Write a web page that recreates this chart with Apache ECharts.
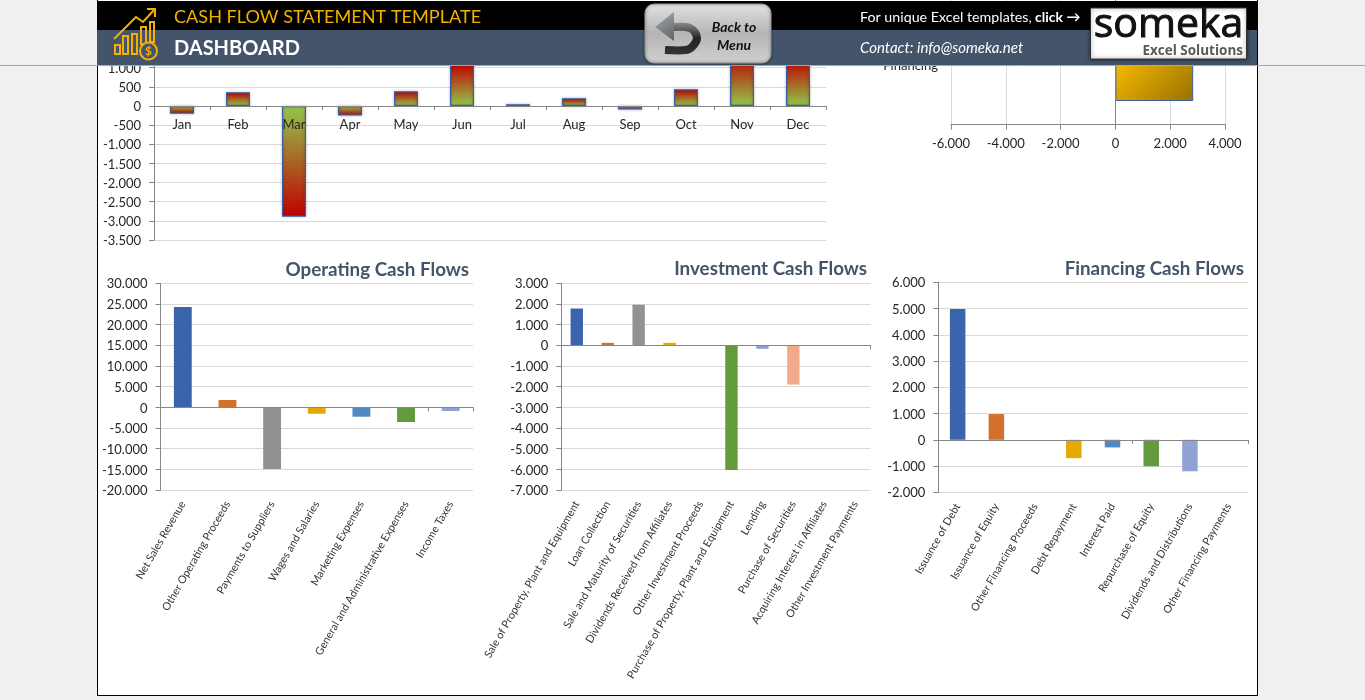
<!DOCTYPE html>
<html>
<head>
<meta charset="utf-8">
<title>Cash Flow Statement Dashboard</title>
<script src="https://cdn.jsdelivr.net/npm/echarts@6/dist/echarts.min.js"></script>
<style>
  html, body { margin: 0; padding: 0; background: #f0f0f0; overflow: hidden; }
  #sheet { position: absolute; left: 97px; top: 0; width: 1159px; height: 695px; background: #fff;
           border-left: 1px solid #000; border-right: 1px solid #000; border-bottom: 1px solid #000; }
  #main { position: absolute; left: 0; top: 0; width: 1365px; height: 700px; }
</style>
</head>
<body>
<div id="sheet"></div>
<div id="main"></div>
<script>
// monthly net cash flow
const months = ['Jan', 'Feb', 'Mar', 'Apr', 'May', 'Jun', 'Jul', 'Aug', 'Sep', 'Oct', 'Nov', 'Dec'];
const monthlyValues = [-200, 358, -2890, -250, 385, 1100, 45, 200, -90, 436, 1300, 1200];

// totals per section (only Financing shows below the header)
const sectionNames = ['Financing', 'Investment', 'Operating'];
const sectionValues = [2840, -4120, 2870];

const operatingNames = ['Net Sales Revenue', 'Other Operating Proceeds', 'Payments to Suppliers', 'Wages and Salaries',
  'Marketing Expenses', 'General and Administrative Expenses', 'Income Taxes'];
const operatingValues = [24270, 1770, -14950, -1550, -2270, -3550, -900];

const investmentNames = ['Sale of Property, Plant and Equipment', 'Loan Collection', 'Sale and Maturity of Securities',
  'Dividends Received from Affiliates', 'Other Investment Proceeds', 'Purchase of Property, Plant and Equipment',
  'Lending', 'Purchase of Securities', 'Acquiring Interest in Affiliates', 'Other Investment Payments'];
const investmentValues = [1780, 120, 1960, 120, 0, -6030, -170, -1900, 0, 0];

const financingNames = ['Issuance of Debt', 'Issuance of Equity', 'Other Financing Proceeds', 'Debt Repayment',
  'Interest Paid', 'Repurchase of Equity', 'Dividends and Distributions', 'Other Financing Payments'];
const financingValues = [4980, 980, 0, -700, -290, -1010, -1200, 0];

const pointColors = ['#3b64ad', '#d2702c', '#929292', '#e3aa00', '#4e8ac0', '#639a3c', '#91a3d5', '#f2aa8a', '#6f6f6f', '#b88600'];

const FONT = 'Lato, "Noto Sans", sans-serif';
const GRID_LINE = '#d9d9d9';
const AXIS_LINE = '#868686';
const SLATE = '#44546a';
const AXIS_TEXT = { color: '#262626', fontSize: 13, fontFamily: FONT };

// 1.000 style numbers, as in the workbook
function fmt(v) {
  const s = String(Math.abs(v)).replace(/\B(?=(\d{3})+$)/g, '.');
  return v < 0 ? '-' + s : s;
}

const myChart = echarts.init(document.getElementById('main'), null, { renderer: 'canvas' });

const grids = [];
const xAxes = [];
const yAxes = [];
const series = [];

function valueY(gridIndex, min, max, interval) {
  yAxes.push({
    gridIndex, type: 'value', min, max, interval,
    axisLine: { show: true, lineStyle: { color: AXIS_LINE } },
    axisTick: { show: true, length: 5, lineStyle: { color: AXIS_LINE } },
    axisLabel: {
      margin: 13,
      formatter: v => '{n|' + fmt(v) + '}',
      // nudges the digits down onto the gridline
      rich: { n: Object.assign({ padding: [2, 0, 0, 0] }, AXIS_TEXT) }
    },
    splitLine: { lineStyle: { color: GRID_LINE } }
  });
}

// a category axis holding only the line and ticks, on zero
function zeroAxis(gridIndex, names) {
  xAxes.push({
    gridIndex, type: 'category', data: names, position: 'bottom', z: 3,
    axisLine: { show: true, onZero: true, lineStyle: { color: AXIS_LINE } },
    axisTick: { show: true, length: 4, lineStyle: { color: AXIS_LINE } },
    axisLabel: { show: false }
  });
  return xAxes.length - 1;
}

// the three lower charts: labels sit at the bottom, the line with its ticks at zero
function sectionChart(box, names, values, yMin, yMax, yStep) {
  const g = grids.length;
  grids.push(Object.assign({ outerBoundsMode: 'none' }, box));
  valueY(g, yMin, yMax, yStep);
  const yIdx = yAxes.length - 1;
  xAxes.push({
    gridIndex: g, type: 'category', data: names, position: 'bottom',
    axisLine: { show: false, onZero: false }, axisTick: { show: false },
    axisLabel: { interval: 0, rotate: 60, color: '#333', fontSize: 10.8, fontFamily: FONT, margin: 12 }
  });
  series.push({
    type: 'bar', xAxisIndex: zeroAxis(g, names), yAxisIndex: yIdx,
    data: values, barCategoryGap: '60%', silent: true,
    itemStyle: { color: p => pointColors[p.dataIndex] }
  });
}

// monthly chart, its top runs under the header
grids.push({ left: 154, width: 672, top: 29.4, height: 210.6, outerBoundsMode: 'none' });
valueY(0, -3500, 2000, 500);
xAxes.push({
  gridIndex: 0, type: 'category', data: months, position: 'bottom', offset: -134, z: 4,
  axisLine: { show: false, onZero: false }, axisTick: { show: false },
  axisLabel: Object.assign({ interval: 0, margin: 12 }, AXIS_TEXT)
});
series.push({
  type: 'bar', xAxisIndex: zeroAxis(0, months), yAxisIndex: 0, data: monthlyValues, barCategoryGap: '57%', silent: true,
  itemStyle: {
    borderColor: '#3a5fa8', borderWidth: 1.2, shadowBlur: 3, shadowColor: 'rgba(0,0,0,0.3)',
    color: p => {
      const red = '#c00000', green = '#92c84a';
      return new echarts.graphic.LinearGradient(0, 0, 0, 1, p.value >= 0
        ? [{ offset: 0, color: red }, { offset: 1, color: green }]
        : [{ offset: 0, color: green }, { offset: 1, color: red }]);
    }
  }
});

// section totals, horizontal
grids.push({ left: 951, width: 274, top: -244.5, height: 369, outerBoundsMode: 'none' });
xAxes.push({
  gridIndex: 1, type: 'value', min: -6000, max: 4000, interval: 2000,
  axisLine: { show: true, onZero: false, lineStyle: { color: AXIS_LINE } },
  axisTick: { show: true, length: 5, lineStyle: { color: AXIS_LINE } },
  axisLabel: Object.assign({ margin: 13, formatter: fmt }, AXIS_TEXT),
  splitLine: { lineStyle: { color: GRID_LINE } }
});
yAxes.push({
  gridIndex: 1, type: 'category', data: sectionNames,
  axisLine: { show: false, onZero: false }, axisTick: { show: false },
  axisLabel: {
    interval: 0, margin: 13,
    formatter: '{n|{value}}',
    rich: { n: Object.assign({}, AXIS_TEXT, { padding: [5, 0, 0, 0] }) }
  }
});
series.push({
  type: 'bar', xAxisIndex: xAxes.length - 1, yAxisIndex: yAxes.length - 1, data: sectionValues, barWidth: 76, silent: true,
  itemStyle: {
    borderColor: '#3a5fa8', borderWidth: 1,
    color: new echarts.graphic.LinearGradient(0, 0, 1, 1, [
      { offset: 0.25, color: '#f4ba00' }, { offset: 1, color: '#9a7000' }
    ])
  },
  markLine: {
    silent: true, symbol: 'none', label: { show: false },
    lineStyle: { color: AXIS_LINE, type: 'solid', width: 1 },
    data: [{ xAxis: 0 }]
  }
});

sectionChart({ left: 160.5, width: 312.5, top: 283.3, height: 206.7 }, operatingNames, operatingValues, -20000, 30000, 5000);
sectionChart({ left: 561.3, width: 309.4, top: 283.3, height: 206.7 }, investmentNames, investmentValues, -7000, 3000, 1000);
sectionChart({ left: 938.3, width: 309.7, top: 282.3, height: 210 }, financingNames, financingValues, -2000, 6000, 1000);

function chartTitle(text, right, top) {
  return {
    text, right, top, padding: 0,
    textStyle: { color: SLATE, fontSize: 18.8, fontWeight: 'bold', fontFamily: FONT }
  };
}

// header band, drawn over the top of the charts
const GOLD = '#f2b000';
const iconStroke = { stroke: GOLD, lineWidth: 2, fill: 'none' };
function box(x, y, width, height, style, r) {
  return { type: 'rect', z: 101, shape: { x, y, width, height, r: r || 0 }, style };
}
function label(text, x, y, font, fill, align, extra) {
  return { type: 'text', z: 103, style: Object.assign({ text, x, y, font, fill, textAlign: align || 'left', textVerticalAlign: 'middle' }, extra) };
}

const headerParts = [
  box(97, 1, 1160, 29, { fill: '#000' }),
  box(97, 30, 1160, 35, { fill: SLATE }),
  { type: 'line', z: 100, shape: { x1: 0, y1: 65.5, x2: 1365, y2: 65.5 }, style: { stroke: '#a6a6a6', lineWidth: 1 } },

  // icon
  { type: 'polyline', z: 102, shape: { points: [[114, 39], [136, 17], [143, 22], [155, 9]] }, style: iconStroke },
  { type: 'polyline', z: 102, shape: { points: [[147, 9], [155, 9], [155, 17]] }, style: iconStroke },
  box(115, 45, 5, 9, iconStroke),
  box(123, 36, 5, 18, iconStroke),
  box(132, 34, 5, 20, iconStroke),
  box(141, 27, 5, 17, iconStroke),
  box(150, 22, 4, 20, iconStroke),
  { type: 'circle', z: 102, shape: { cx: 148.5, cy: 51, r: 8.5 }, style: { stroke: GOLD, lineWidth: 2, fill: SLATE } },
  label('$', 148.5, 51, 'bold 12px ' + FONT, GOLD, 'center'),

  label('CASH FLOW STATEMENT TEMPLATE', 174, 17.5, '18.1px ' + FONT, GOLD),
  label('DASHBOARD', 174, 49, 'bold 20px ' + FONT, '#fff'),

  // back button
  box(645, 4, 126, 59, {
    fill: new echarts.graphic.LinearGradient(0, 0, 0, 1, [
      { offset: 0, color: '#e2e2e2' }, { offset: 0.5, color: '#b5b5b5' }, { offset: 1, color: '#d0d0d0' }
    ]),
    stroke: '#9a9a9a', lineWidth: 1, shadowBlur: 3, shadowColor: 'rgba(0,0,0,0.5)'
  }, 9),
  { type: 'polyline', z: 102, shape: { points: [[672, 27], [686, 27], [693, 30], [697, 38], [693, 46], [686, 50], [665, 50]], smooth: 0.3 },
    style: {
      lineWidth: 8, fill: 'none',
      stroke: new echarts.graphic.LinearGradient(0, 0, 0, 1, [
        { offset: 0, color: '#8a8a8a' }, { offset: 0.5, color: '#222' }, { offset: 1, color: '#333' }
      ])
    } },
  { type: 'polygon', z: 102, shape: { points: [[655, 27], [674, 12], [674, 41]] },
    style: {
      fill: new echarts.graphic.LinearGradient(0, 0, 1, 1, [
        { offset: 0, color: '#a6adb5' }, { offset: 1, color: '#5d6066' }
      ])
    } },
  label('Back to', 734, 27, 'italic bold 14px ' + FONT, '#111', 'center'),
  label('Menu', 734, 45, 'italic bold 14px ' + FONT, '#111', 'center'),

  label('For unique Excel templates, ', 860, 17.5, '14.25px ' + FONT, '#fff'),
  label('click \u2192', 1035, 17.5, 'bold 14px ' + FONT, '#fff'),
  label('Contact: info@someka.net', 860, 48.5, 'italic 15px ' + FONT, '#fff'),

  // logo
  box(1090.5, 8, 156, 51, { fill: '#fff', stroke: '#333', lineWidth: 1, shadowBlur: 4, shadowColor: 'rgba(0,0,0,0.6)' }),
  label('someka', 1168.5, 25.5, '41px "Open Sans", sans-serif', '#111', 'center', { stroke: '#111', lineWidth: 1 }),
  label('Excel Solutions', 1243, 51, 'bold 13.5px "Open Sans", sans-serif', '#595959', 'right')
];

myChart.setOption({
  animation: false,
  textStyle: { fontFamily: FONT },
  title: [
    chartTitle('Operating Cash Flows', 1365 - 469, 260),
    chartTitle('Investment Cash Flows', 1365 - 867, 259),
    chartTitle('Financing Cash Flows', 1365 - 1244, 259)
  ],
  grid: grids,
  xAxis: xAxes,
  yAxis: yAxes,
  series: series,
  graphic: { elements: headerParts }
});
</script>
</body>
</html>
